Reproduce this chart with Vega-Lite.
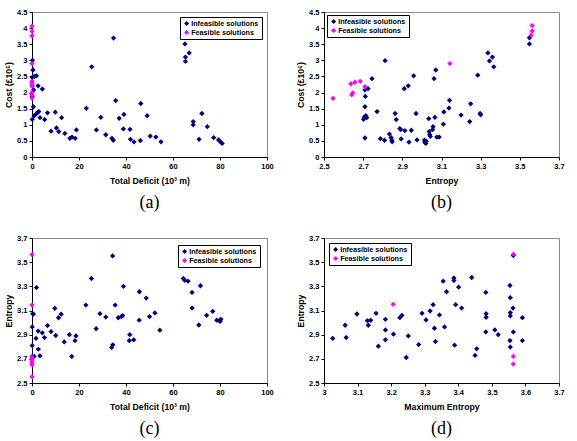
{
  "$schema": "https://vega.github.io/schema/vega-lite/v6.json",
  "background": "white",
  "padding": {"left": 4, "top": 7, "right": 0, "bottom": 0},
  "bounds": "flush",
  "columns": 2,
  "spacing": {"row": 81, "column": 57},
  "datasets": {
    "a": [
      {"x":0.2,"y":3.0,"t":"Infeasible solutions"},{"x":0.4,"y":2.7,"t":"Infeasible solutions"},{"x":0.1,"y":2.47,"t":"Infeasible solutions"},{"x":0.9,"y":2.5,"t":"Infeasible solutions"},{"x":1.9,"y":2.52,"t":"Infeasible solutions"},{"x":0.7,"y":2.08,"t":"Infeasible solutions"},{"x":0.1,"y":2.2,"t":"Infeasible solutions"},{"x":0.1,"y":1.88,"t":"Infeasible solutions"},{"x":0.6,"y":1.56,"t":"Infeasible solutions"},{"x":0.1,"y":1.17,"t":"Infeasible solutions"},{"x":0.9,"y":1.28,"t":"Infeasible solutions"},{"x":1.7,"y":1.33,"t":"Infeasible solutions"},{"x":2.3,"y":1.38,"t":"Infeasible solutions"},{"x":2.9,"y":1.41,"t":"Infeasible solutions"},{"x":2.6,"y":2.21,"t":"Infeasible solutions"},{"x":4.4,"y":2.11,"t":"Infeasible solutions"},{"x":3.4,"y":1.22,"t":"Infeasible solutions"},{"x":5.4,"y":1.16,"t":"Infeasible solutions"},{"x":6.6,"y":1.37,"t":"Infeasible solutions"},{"x":8.1,"y":0.8,"t":"Infeasible solutions"},{"x":9.9,"y":1.39,"t":"Infeasible solutions"},{"x":10.4,"y":0.9,"t":"Infeasible solutions"},{"x":11.4,"y":0.79,"t":"Infeasible solutions"},{"x":12.6,"y":1.22,"t":"Infeasible solutions"},{"x":14,"y":0.73,"t":"Infeasible solutions"},{"x":16.1,"y":0.58,"t":"Infeasible solutions"},{"x":17,"y":0.62,"t":"Infeasible solutions"},{"x":18.4,"y":0.58,"t":"Infeasible solutions"},{"x":18.9,"y":0.84,"t":"Infeasible solutions"},{"x":23.1,"y":1.51,"t":"Infeasible solutions"},{"x":25.4,"y":2.8,"t":"Infeasible solutions"},{"x":27.4,"y":0.84,"t":"Infeasible solutions"},{"x":29.3,"y":1.23,"t":"Infeasible solutions"},{"x":31.4,"y":0.69,"t":"Infeasible solutions"},{"x":34,"y":0.58,"t":"Infeasible solutions"},{"x":34.6,"y":0.52,"t":"Infeasible solutions"},{"x":34.7,"y":3.69,"t":"Infeasible solutions"},{"x":35.6,"y":1.75,"t":"Infeasible solutions"},{"x":37.1,"y":1.2,"t":"Infeasible solutions"},{"x":38.9,"y":0.87,"t":"Infeasible solutions"},{"x":39.1,"y":1.32,"t":"Infeasible solutions"},{"x":41.7,"y":0.86,"t":"Infeasible solutions"},{"x":41.9,"y":0.55,"t":"Infeasible solutions"},{"x":43.4,"y":0.47,"t":"Infeasible solutions"},{"x":46.1,"y":0.51,"t":"Infeasible solutions"},{"x":46.3,"y":1.66,"t":"Infeasible solutions"},{"x":49,"y":1.28,"t":"Infeasible solutions"},{"x":50.3,"y":0.65,"t":"Infeasible solutions"},{"x":52.7,"y":0.62,"t":"Infeasible solutions"},{"x":54.9,"y":0.47,"t":"Infeasible solutions"},{"x":65.1,"y":3.51,"t":"Infeasible solutions"},{"x":65.3,"y":3.1,"t":"Infeasible solutions"},{"x":65.3,"y":2.97,"t":"Infeasible solutions"},{"x":66.9,"y":3.23,"t":"Infeasible solutions"},{"x":68.6,"y":1.1,"t":"Infeasible solutions"},{"x":68.6,"y":1.0,"t":"Infeasible solutions"},{"x":71.1,"y":0.55,"t":"Infeasible solutions"},{"x":72.3,"y":1.35,"t":"Infeasible solutions"},{"x":74.6,"y":0.94,"t":"Infeasible solutions"},{"x":77.3,"y":0.6,"t":"Infeasible solutions"},{"x":79.4,"y":0.53,"t":"Infeasible solutions"},{"x":80.1,"y":0.48,"t":"Infeasible solutions"},{"x":80.9,"y":0.42,"t":"Infeasible solutions"},
      {"x":0,"y":4.06,"t":"Feasible solutions"},{"x":0,"y":3.9,"t":"Feasible solutions"},{"x":0,"y":3.76,"t":"Feasible solutions"},{"x":0,"y":2.9,"t":"Feasible solutions"},{"x":0,"y":2.35,"t":"Feasible solutions"},{"x":0,"y":2.32,"t":"Feasible solutions"},{"x":0,"y":2.27,"t":"Feasible solutions"},{"x":0,"y":2.2,"t":"Feasible solutions"},{"x":0,"y":2.0,"t":"Feasible solutions"},{"x":0,"y":1.93,"t":"Feasible solutions"},{"x":0,"y":1.82,"t":"Feasible solutions"}
    ],
    "b": [
      {"x":2.709,"y":0.59,"t":"Infeasible solutions"},{"x":2.702,"y":1.17,"t":"Infeasible solutions"},{"x":2.709,"y":1.56,"t":"Infeasible solutions"},{"x":2.711,"y":1.88,"t":"Infeasible solutions"},{"x":2.709,"y":2.08,"t":"Infeasible solutions"},{"x":2.725,"y":2.12,"t":"Infeasible solutions"},{"x":2.714,"y":1.28,"t":"Infeasible solutions"},{"x":2.718,"y":1.22,"t":"Infeasible solutions"},{"x":2.706,"y":1.24,"t":"Infeasible solutions"},{"x":2.771,"y":1.41,"t":"Infeasible solutions"},{"x":2.745,"y":2.43,"t":"Infeasible solutions"},{"x":2.812,"y":2.99,"t":"Infeasible solutions"},{"x":2.788,"y":0.57,"t":"Infeasible solutions"},{"x":2.809,"y":0.52,"t":"Infeasible solutions"},{"x":2.834,"y":0.71,"t":"Infeasible solutions"},{"x":2.843,"y":0.6,"t":"Infeasible solutions"},{"x":2.846,"y":0.52,"t":"Infeasible solutions"},{"x":2.848,"y":0.47,"t":"Infeasible solutions"},{"x":2.863,"y":1.35,"t":"Infeasible solutions"},{"x":2.869,"y":1.16,"t":"Infeasible solutions"},{"x":2.887,"y":0.88,"t":"Infeasible solutions"},{"x":2.892,"y":0.85,"t":"Infeasible solutions"},{"x":2.894,"y":0.56,"t":"Infeasible solutions"},{"x":2.913,"y":0.82,"t":"Infeasible solutions"},{"x":2.91,"y":2.12,"t":"Infeasible solutions"},{"x":2.93,"y":2.21,"t":"Infeasible solutions"},{"x":2.934,"y":0.46,"t":"Infeasible solutions"},{"x":2.946,"y":0.83,"t":"Infeasible solutions"},{"x":2.958,"y":2.52,"t":"Infeasible solutions"},{"x":2.97,"y":1.35,"t":"Infeasible solutions"},{"x":2.975,"y":0.53,"t":"Infeasible solutions"},{"x":3.013,"y":0.52,"t":"Infeasible solutions"},{"x":3.015,"y":0.46,"t":"Infeasible solutions"},{"x":3.02,"y":0.42,"t":"Infeasible solutions"},{"x":3.022,"y":0.49,"t":"Infeasible solutions"},{"x":3.037,"y":0.79,"t":"Infeasible solutions"},{"x":3.04,"y":0.69,"t":"Infeasible solutions"},{"x":3.035,"y":1.19,"t":"Infeasible solutions"},{"x":3.043,"y":0.64,"t":"Infeasible solutions"},{"x":3.055,"y":0.85,"t":"Infeasible solutions"},{"x":3.057,"y":0.94,"t":"Infeasible solutions"},{"x":3.066,"y":1.23,"t":"Infeasible solutions"},{"x":3.062,"y":2.43,"t":"Infeasible solutions"},{"x":3.071,"y":2.7,"t":"Infeasible solutions"},{"x":3.076,"y":0.62,"t":"Infeasible solutions"},{"x":3.088,"y":0.62,"t":"Infeasible solutions"},{"x":3.11,"y":1.02,"t":"Infeasible solutions"},{"x":3.112,"y":1.4,"t":"Infeasible solutions"},{"x":3.138,"y":1.52,"t":"Infeasible solutions"},{"x":3.141,"y":1.76,"t":"Infeasible solutions"},{"x":3.2,"y":1.3,"t":"Infeasible solutions"},{"x":3.244,"y":1.1,"t":"Infeasible solutions"},{"x":3.249,"y":1.65,"t":"Infeasible solutions"},{"x":3.285,"y":2.54,"t":"Infeasible solutions"},{"x":3.297,"y":1.35,"t":"Infeasible solutions"},{"x":3.3,"y":1.31,"t":"Infeasible solutions"},{"x":3.337,"y":3.23,"t":"Infeasible solutions"},{"x":3.345,"y":2.98,"t":"Infeasible solutions"},{"x":3.36,"y":3.1,"t":"Infeasible solutions"},{"x":3.367,"y":2.8,"t":"Infeasible solutions"},{"x":3.549,"y":3.51,"t":"Infeasible solutions"},{"x":3.549,"y":3.7,"t":"Infeasible solutions"},
      {"x":2.546,"y":1.82,"t":"Feasible solutions"},{"x":2.637,"y":2.27,"t":"Feasible solutions"},{"x":2.658,"y":2.32,"t":"Feasible solutions"},{"x":2.685,"y":2.35,"t":"Feasible solutions"},{"x":2.709,"y":2.18,"t":"Feasible solutions"},{"x":2.642,"y":1.93,"t":"Feasible solutions"},{"x":2.647,"y":1.99,"t":"Feasible solutions"},{"x":3.143,"y":2.9,"t":"Feasible solutions"},{"x":3.558,"y":3.78,"t":"Feasible solutions"},{"x":3.563,"y":3.91,"t":"Feasible solutions"},{"x":3.563,"y":4.08,"t":"Feasible solutions"}
    ],
    "c": [
      {"x":0.1,"y":2.964,"t":"Infeasible solutions"},{"x":0.3,"y":3.074,"t":"Infeasible solutions"},{"x":0.6,"y":3.07,"t":"Infeasible solutions"},{"x":0.1,"y":2.81,"t":"Infeasible solutions"},{"x":0.1,"y":2.72,"t":"Infeasible solutions"},{"x":0.9,"y":2.72,"t":"Infeasible solutions"},{"x":1.9,"y":3.29,"t":"Infeasible solutions"},{"x":1.7,"y":2.87,"t":"Infeasible solutions"},{"x":2.6,"y":2.93,"t":"Infeasible solutions"},{"x":2.7,"y":2.78,"t":"Infeasible solutions"},{"x":3.4,"y":2.725,"t":"Infeasible solutions"},{"x":4.4,"y":2.915,"t":"Infeasible solutions"},{"x":5.3,"y":2.876,"t":"Infeasible solutions"},{"x":6.6,"y":2.975,"t":"Infeasible solutions"},{"x":8.1,"y":2.926,"t":"Infeasible solutions"},{"x":9.7,"y":3.118,"t":"Infeasible solutions"},{"x":10.1,"y":2.893,"t":"Infeasible solutions"},{"x":11.3,"y":3.04,"t":"Infeasible solutions"},{"x":12.4,"y":3.07,"t":"Infeasible solutions"},{"x":13.7,"y":2.84,"t":"Infeasible solutions"},{"x":15.9,"y":2.9,"t":"Infeasible solutions"},{"x":16.9,"y":2.72,"t":"Infeasible solutions"},{"x":18.3,"y":2.85,"t":"Infeasible solutions"},{"x":18.7,"y":2.89,"t":"Infeasible solutions"},{"x":22.9,"y":3.145,"t":"Infeasible solutions"},{"x":25.3,"y":3.365,"t":"Infeasible solutions"},{"x":27.3,"y":2.95,"t":"Infeasible solutions"},{"x":28.9,"y":3.074,"t":"Infeasible solutions"},{"x":31.4,"y":3.046,"t":"Infeasible solutions"},{"x":33.9,"y":2.794,"t":"Infeasible solutions"},{"x":34.4,"y":2.816,"t":"Infeasible solutions"},{"x":34.3,"y":3.552,"t":"Infeasible solutions"},{"x":35.4,"y":3.145,"t":"Infeasible solutions"},{"x":36.7,"y":3.04,"t":"Infeasible solutions"},{"x":38,"y":3.05,"t":"Infeasible solutions"},{"x":38.6,"y":3.057,"t":"Infeasible solutions"},{"x":38.9,"y":3.3,"t":"Infeasible solutions"},{"x":41.4,"y":2.85,"t":"Infeasible solutions"},{"x":41.6,"y":2.9,"t":"Infeasible solutions"},{"x":43.3,"y":2.857,"t":"Infeasible solutions"},{"x":45.6,"y":3.02,"t":"Infeasible solutions"},{"x":45.7,"y":3.255,"t":"Infeasible solutions"},{"x":48.6,"y":3.203,"t":"Infeasible solutions"},{"x":50,"y":3.05,"t":"Infeasible solutions"},{"x":52.3,"y":3.08,"t":"Infeasible solutions"},{"x":54.4,"y":2.937,"t":"Infeasible solutions"},{"x":64.4,"y":3.365,"t":"Infeasible solutions"},{"x":65,"y":3.35,"t":"Infeasible solutions"},{"x":66.4,"y":3.343,"t":"Infeasible solutions"},{"x":68.1,"y":3.25,"t":"Infeasible solutions"},{"x":68.1,"y":3.12,"t":"Infeasible solutions"},{"x":71,"y":2.98,"t":"Infeasible solutions"},{"x":71.7,"y":3.305,"t":"Infeasible solutions"},{"x":74.3,"y":3.06,"t":"Infeasible solutions"},{"x":76.9,"y":3.093,"t":"Infeasible solutions"},{"x":78.6,"y":3.02,"t":"Infeasible solutions"},{"x":79.9,"y":3.02,"t":"Infeasible solutions"},{"x":80.4,"y":3.027,"t":"Infeasible solutions"},{"x":80,"y":3.01,"t":"Infeasible solutions"},
      {"x":0,"y":3.563,"t":"Feasible solutions"},{"x":0,"y":3.145,"t":"Feasible solutions"},{"x":0,"y":2.714,"t":"Feasible solutions"},{"x":0,"y":2.7,"t":"Feasible solutions"},{"x":0,"y":2.68,"t":"Feasible solutions"},{"x":0,"y":2.665,"t":"Feasible solutions"},{"x":0,"y":2.65,"t":"Feasible solutions"},{"x":0,"y":2.552,"t":"Feasible solutions"}
    ],
    "d": [
      {"x":3.026,"y":2.87,"t":"Infeasible solutions"},{"x":3.063,"y":2.978,"t":"Infeasible solutions"},{"x":3.066,"y":2.876,"t":"Infeasible solutions"},{"x":3.098,"y":3.071,"t":"Infeasible solutions"},{"x":3.129,"y":3.016,"t":"Infeasible solutions"},{"x":3.132,"y":2.978,"t":"Infeasible solutions"},{"x":3.139,"y":3.019,"t":"Infeasible solutions"},{"x":3.155,"y":3.077,"t":"Infeasible solutions"},{"x":3.162,"y":2.805,"t":"Infeasible solutions"},{"x":3.183,"y":3.027,"t":"Infeasible solutions"},{"x":3.183,"y":2.939,"t":"Infeasible solutions"},{"x":3.183,"y":2.857,"t":"Infeasible solutions"},{"x":3.207,"y":2.904,"t":"Infeasible solutions"},{"x":3.226,"y":3.041,"t":"Infeasible solutions"},{"x":3.232,"y":3.06,"t":"Infeasible solutions"},{"x":3.245,"y":2.711,"t":"Infeasible solutions"},{"x":3.251,"y":2.89,"t":"Infeasible solutions"},{"x":3.282,"y":2.818,"t":"Infeasible solutions"},{"x":3.292,"y":3.077,"t":"Infeasible solutions"},{"x":3.304,"y":3.022,"t":"Infeasible solutions"},{"x":3.316,"y":3.096,"t":"Infeasible solutions"},{"x":3.325,"y":3.148,"t":"Infeasible solutions"},{"x":3.329,"y":2.953,"t":"Infeasible solutions"},{"x":3.332,"y":2.843,"t":"Infeasible solutions"},{"x":3.344,"y":3.063,"t":"Infeasible solutions"},{"x":3.355,"y":3.343,"t":"Infeasible solutions"},{"x":3.359,"y":2.964,"t":"Infeasible solutions"},{"x":3.365,"y":3.255,"t":"Infeasible solutions"},{"x":3.387,"y":3.37,"t":"Infeasible solutions"},{"x":3.387,"y":3.348,"t":"Infeasible solutions"},{"x":3.389,"y":2.813,"t":"Infeasible solutions"},{"x":3.392,"y":3.148,"t":"Infeasible solutions"},{"x":3.401,"y":3.293,"t":"Infeasible solutions"},{"x":3.41,"y":3.12,"t":"Infeasible solutions"},{"x":3.44,"y":3.373,"t":"Infeasible solutions"},{"x":3.45,"y":2.728,"t":"Infeasible solutions"},{"x":3.455,"y":2.783,"t":"Infeasible solutions"},{"x":3.482,"y":3.25,"t":"Infeasible solutions"},{"x":3.483,"y":3.074,"t":"Infeasible solutions"},{"x":3.483,"y":3.044,"t":"Infeasible solutions"},{"x":3.482,"y":2.923,"t":"Infeasible solutions"},{"x":3.509,"y":2.939,"t":"Infeasible solutions"},{"x":3.519,"y":2.9,"t":"Infeasible solutions"},{"x":3.554,"y":3.307,"t":"Infeasible solutions"},{"x":3.555,"y":3.206,"t":"Infeasible solutions"},{"x":3.555,"y":3.082,"t":"Infeasible solutions"},{"x":3.555,"y":3.055,"t":"Infeasible solutions"},{"x":3.554,"y":2.851,"t":"Infeasible solutions"},{"x":3.555,"y":2.797,"t":"Infeasible solutions"},{"x":3.564,"y":3.555,"t":"Infeasible solutions"},{"x":3.563,"y":3.12,"t":"Infeasible solutions"},{"x":3.564,"y":2.923,"t":"Infeasible solutions"},{"x":3.591,"y":3.041,"t":"Infeasible solutions"},{"x":3.591,"y":2.851,"t":"Infeasible solutions"},
      {"x":3.206,"y":3.151,"t":"Feasible solutions"},{"x":3.564,"y":3.566,"t":"Feasible solutions"},{"x":3.564,"y":2.72,"t":"Feasible solutions"},{"x":3.564,"y":2.657,"t":"Feasible solutions"}
    ]
  },
  "concat": [
    {
      "width": 235, "height": 145,
      "data": {"name": "a"},
      "title": {"text": "(a)"},
      "mark": {"type": "point", "shape": "diamond", "filled": true, "size": 28, "opacity": 1},
      "encoding": {
        "x": {"field": "x", "type": "quantitative", "scale": {"domain": [0, 100], "nice": false}, "axis": {"values": [0,20,40,60,80,100], "title": "Total Deficit (10³ m)"}},
        "y": {"field": "y", "type": "quantitative", "scale": {"domain": [0, 4.5], "nice": false}, "axis": {"values": [0,0.5,1,1.5,2,2.5,3,3.5,4,4.5], "title": "Cost (£10⁶)"}},
        "color": {"field": "t", "type": "nominal", "scale": {"domain": ["Infeasible solutions","Feasible solutions"], "range": ["#000080","#FF00FF"]}, "legend": {"orient": "top-right", "offset": 5}}
      }
    },
    {
      "width": 235, "height": 145,
      "data": {"name": "b"},
      "title": {"text": "(b)"},
      "mark": {"type": "point", "shape": "diamond", "filled": true, "size": 28, "opacity": 1},
      "encoding": {
        "x": {"field": "x", "type": "quantitative", "scale": {"domain": [2.5, 3.7], "nice": false}, "axis": {"values": [2.5,2.7,2.9,3.1,3.3,3.5,3.7], "title": "Entropy"}},
        "y": {"field": "y", "type": "quantitative", "scale": {"domain": [0, 4.5], "nice": false}, "axis": {"values": [0,0.5,1,1.5,2,2.5,3,3.5,4,4.5], "title": "Cost (£10⁶)"}},
        "color": {"field": "t", "type": "nominal", "scale": {"domain": ["Infeasible solutions","Feasible solutions"], "range": ["#000080","#FF00FF"]}, "legend": {"orient": "top-left", "offset": 3}}
      }
    },
    {
      "width": 235, "height": 145,
      "data": {"name": "c"},
      "title": {"text": "(c)"},
      "mark": {"type": "point", "shape": "diamond", "filled": true, "size": 28, "opacity": 1},
      "encoding": {
        "x": {"field": "x", "type": "quantitative", "scale": {"domain": [0, 100], "nice": false}, "axis": {"values": [0,20,40,60,80,100], "title": "Total Deficit (10³ m)"}},
        "y": {"field": "y", "type": "quantitative", "scale": {"domain": [2.5, 3.7], "nice": false}, "axis": {"values": [2.5,2.7,2.9,3.1,3.3,3.5,3.7], "title": "Entropy"}},
        "color": {"field": "t", "type": "nominal", "scale": {"domain": ["Infeasible solutions","Feasible solutions"], "range": ["#000080","#FF00FF"]}, "legend": {"orient": "top-right", "offset": 7}}
      }
    },
    {
      "width": 235, "height": 145,
      "data": {"name": "d"},
      "title": {"text": "(d)"},
      "mark": {"type": "point", "shape": "diamond", "filled": true, "size": 28, "opacity": 1},
      "encoding": {
        "x": {"field": "x", "type": "quantitative", "scale": {"domain": [3, 3.7], "nice": false}, "axis": {"values": [3,3.1,3.2,3.3,3.4,3.5,3.6,3.7], "title": "Maximum Entropy"}},
        "y": {"field": "y", "type": "quantitative", "scale": {"domain": [2.5, 3.7], "nice": false}, "axis": {"values": [2.5,2.7,2.9,3.1,3.3,3.5,3.7], "title": "Entropy"}},
        "color": {"field": "t", "type": "nominal", "scale": {"domain": ["Infeasible solutions","Feasible solutions"], "range": ["#000080","#FF00FF"]}, "legend": {"orient": "top-left", "offset": 5}}
      }
    }
  ],
  "resolve": {"scale": {"color": "independent", "x": "independent", "y": "independent"}, "legend": {"color": "independent"}},
  "config": {
    "view": {"stroke": "#888888", "strokeWidth": 1},
    "font": "Liberation Sans",
    "axis": {
      "grid": false, "domainColor": "black", "domainWidth": 1, "tickColor": "black", "tickSize": 3,
      "labelFont": "Liberation Sans", "labelFontSize": 7.5, "labelFontWeight": "bold", "labelColor": "black",
      "labelPadding": 2, "labelFlush": false, "labelOverlap": false, "format": "~r",
      "titleFont": "Liberation Sans", "titleFontSize": 8.7, "titleFontWeight": "bold", "titleColor": "black"
    },
    "axisX": {"titlePadding": 7},
    "axisY": {"titlePadding": 3},
    "legend": {
      "title": null, "strokeColor": "black", "fillColor": "white", "padding": 3, "cornerRadius": 0,
      "labelFont": "Liberation Sans", "labelFontSize": 7.2, "labelFontWeight": "bold", "labelColor": "black",
      "symbolType": "diamond", "symbolSize": 25, "symbolStrokeWidth": 0, "rowPadding": 1, "labelOffset": 1, "labelLimit": 200
    },
    "title": {"orient": "bottom", "font": "Liberation Serif", "fontSize": 18, "fontWeight": "normal", "color": "black", "offset": 9, "anchor": "middle"}
  }
}
